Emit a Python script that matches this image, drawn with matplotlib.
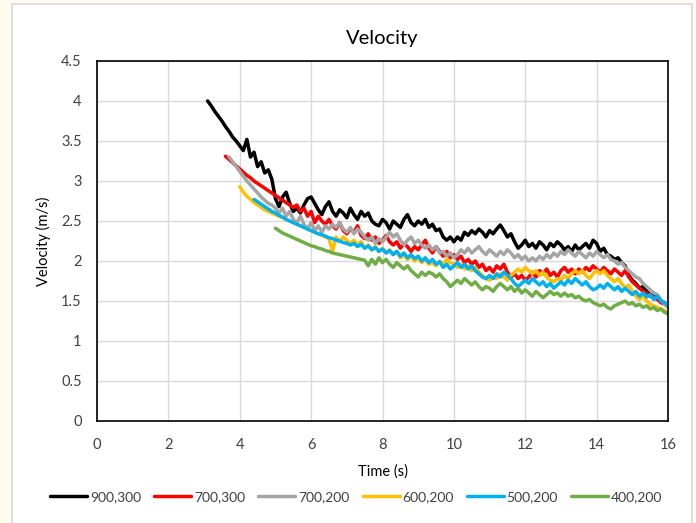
import matplotlib
matplotlib.use("Agg")
import matplotlib.pyplot as plt
from matplotlib.patches import Rectangle
import numpy as np

plt.rcParams["font.family"] = ["Lato", "DejaVu Sans"]

# logged speed samples, one every 0.1 s from each run's start time
DT = 0.1

labels = ["900,300", "700,300", "700,200", "600,200", "500,200", "400,200"]
colors = ["#000000", "#FF0000", "#A5A5A5", "#FFC000", "#00B0F0", "#70AD47"]
start_times = [3.1, 3.6, 3.7, 4.0, 4.4, 5.0]

v_900_300 = [
    4.00, 3.94, 3.87, 3.81, 3.75, 3.68, 3.62, 3.55, 3.50, 3.44,
    3.38, 3.52, 3.30, 3.36, 3.18, 3.24, 3.10, 3.14, 3.02, 2.78,
    2.68, 2.80, 2.86, 2.72, 2.62, 2.66, 2.60, 2.70, 2.78, 2.80,
    2.72, 2.64, 2.58, 2.68, 2.74, 2.62, 2.56, 2.64, 2.60, 2.54,
    2.66, 2.58, 2.52, 2.62, 2.56, 2.60, 2.50, 2.46, 2.44, 2.52,
    2.48, 2.40, 2.50, 2.46, 2.42, 2.52, 2.58, 2.48, 2.44, 2.50,
    2.46, 2.52, 2.42, 2.46, 2.38, 2.40, 2.30, 2.26, 2.30, 2.24,
    2.30, 2.26, 2.36, 2.32, 2.38, 2.34, 2.40, 2.36, 2.30, 2.38,
    2.34, 2.40, 2.45, 2.38, 2.30, 2.34, 2.24, 2.16, 2.20, 2.26,
    2.18, 2.22, 2.16, 2.24, 2.20, 2.14, 2.22, 2.18, 2.24, 2.20,
    2.14, 2.18, 2.12, 2.20, 2.14, 2.18, 2.22, 2.16, 2.26, 2.22,
    2.12, 2.16, 2.08, 2.06, 2.02, 2.04, 1.98, 1.94, 1.82, 1.76,
    1.72, 1.66, 1.68, 1.62, 1.58, 1.60, 1.54, 1.50, 1.48, 1.44,
]
v_700_300 = [
    3.31, 3.27, 3.23, 3.19, 3.15, 3.11, 3.07, 3.04, 3.00, 2.97,
    2.94, 2.91, 2.88, 2.85, 2.82, 2.79, 2.76, 2.73, 2.70, 2.67,
    2.70, 2.62, 2.66, 2.56, 2.62, 2.48, 2.56, 2.50, 2.46, 2.52,
    2.44, 2.40, 2.48, 2.38, 2.34, 2.40, 2.36, 2.44, 2.32, 2.28,
    2.34, 2.26, 2.30, 2.22, 2.26, 2.32, 2.24, 2.20, 2.24, 2.16,
    2.22, 2.18, 2.12, 2.18, 2.14, 2.20, 2.26, 2.16, 2.10, 2.18,
    2.12, 2.06, 2.12, 2.04, 2.08, 2.02, 2.06, 1.98, 2.02, 1.96,
    2.00, 1.92, 1.96, 1.88, 1.92, 1.86, 1.94, 1.90, 1.96, 1.86,
    1.80, 1.84, 1.78, 1.82, 1.76, 1.80, 1.86, 1.80, 1.88, 1.84,
    1.90, 1.82, 1.86, 1.80, 1.88, 1.92, 1.86, 1.90, 1.84, 1.90,
    1.86, 1.92, 1.88, 1.94, 1.90, 1.86, 1.92, 1.88, 1.84, 1.90,
    1.86, 1.82, 1.88, 1.80, 1.74, 1.70, 1.66, 1.62, 1.60, 1.56,
    1.54, 1.52, 1.48, 1.46, 1.44,
]
v_700_200 = [
    3.30, 3.24, 3.18, 3.12, 3.06, 3.00, 2.95, 2.90, 2.85, 2.80,
    2.76, 2.72, 2.70, 2.66, 2.60, 2.66, 2.56, 2.62, 2.52, 2.48,
    2.56, 2.46, 2.40, 2.48, 2.38, 2.44, 2.36, 2.44, 2.40, 2.46,
    2.42, 2.48, 2.40, 2.36, 2.42, 2.34, 2.40, 2.36, 2.30, 2.26,
    2.30, 2.22, 2.28, 2.24, 2.30, 2.36, 2.30, 2.34, 2.26, 2.20,
    2.26, 2.30, 2.22, 2.26, 2.20, 2.16, 2.20, 2.14, 2.18, 2.10,
    2.12, 2.06, 2.10, 2.04, 2.08, 2.14, 2.10, 2.16, 2.10, 2.14,
    2.18, 2.12, 2.08, 2.14, 2.10, 2.06, 2.12, 2.08, 2.14, 2.10,
    2.04, 2.08, 2.02, 2.06, 2.00, 2.04, 2.00, 2.06, 2.02, 2.08,
    2.04, 2.10, 2.06, 2.12, 2.08, 2.14, 2.10, 2.06, 2.12, 2.08,
    2.04, 2.10, 2.06, 2.12, 2.08, 2.04, 2.08, 2.02, 2.00, 1.96,
    1.98, 1.92, 1.88, 1.84, 1.80, 1.78, 1.72, 1.68, 1.64, 1.60,
    1.58, 1.52, 1.46, 1.42,
]
v_600_200 = [
    2.93, 2.86, 2.81, 2.77, 2.73, 2.70, 2.67, 2.64, 2.62, 2.60,
    2.58, 2.56, 2.54, 2.52, 2.50, 2.48, 2.46, 2.44, 2.42, 2.40,
    2.38, 2.36, 2.34, 2.32, 2.30, 2.28, 2.12, 2.30, 2.24, 2.30,
    2.26, 2.22, 2.26, 2.20, 2.24, 2.16, 2.20, 2.14, 2.18, 2.12,
    2.16, 2.10, 2.14, 2.08, 2.12, 2.04, 2.08, 2.02, 2.06, 2.00,
    2.04, 1.98, 2.02, 1.96, 1.98, 1.94, 2.00, 1.96, 2.02, 1.98,
    1.96, 1.92, 1.96, 1.90, 1.94, 1.88, 1.92, 1.86, 1.82, 1.78,
    1.76, 1.80, 1.78, 1.84, 1.80, 1.76, 1.82, 1.86, 1.90, 1.86,
    1.92, 1.88, 1.84, 1.88, 1.82, 1.86, 1.80, 1.76, 1.74, 1.78,
    1.76, 1.82, 1.78, 1.84, 1.88, 1.84, 1.88, 1.82, 1.78, 1.84,
    1.88, 1.84, 1.88, 1.82, 1.78, 1.74, 1.78, 1.72, 1.66, 1.70,
    1.62, 1.56, 1.52, 1.56, 1.50, 1.46, 1.44, 1.42, 1.40, 1.38,
    1.35,
]
v_500_200 = [
    2.77, 2.74, 2.71, 2.68, 2.65, 2.62, 2.60, 2.57, 2.55, 2.52,
    2.50, 2.48, 2.46, 2.44, 2.42, 2.40, 2.38, 2.36, 2.34, 2.33,
    2.31, 2.29, 2.28, 2.26, 2.25, 2.23, 2.22, 2.20, 2.22, 2.18,
    2.21, 2.16, 2.19, 2.14, 2.17, 2.12, 2.15, 2.10, 2.13, 2.08,
    2.12, 2.06, 2.10, 2.04, 2.08, 2.03, 2.06, 2.00, 2.04, 1.98,
    2.02, 1.96, 1.99, 1.92, 1.96, 1.90, 1.94, 1.98, 1.92, 1.96,
    1.90, 1.94, 1.88, 1.84, 1.80, 1.78, 1.82, 1.78, 1.84, 1.80,
    1.86, 1.82, 1.78, 1.72, 1.68, 1.72, 1.76, 1.72, 1.78, 1.74,
    1.70, 1.74, 1.68, 1.72, 1.66, 1.70, 1.74, 1.70, 1.76, 1.72,
    1.78, 1.74, 1.70, 1.74, 1.68, 1.64, 1.66, 1.70, 1.66, 1.72,
    1.68, 1.64, 1.68, 1.62, 1.66, 1.62, 1.58, 1.62, 1.56, 1.60,
    1.55, 1.58, 1.52, 1.56, 1.50, 1.48, 1.45,
]
v_400_200 = [
    2.41, 2.38, 2.35, 2.33, 2.31, 2.29, 2.27, 2.25, 2.23, 2.21,
    2.19, 2.18, 2.16, 2.15, 2.13, 2.12, 2.10, 2.09, 2.08, 2.07,
    2.06, 2.05, 2.04, 2.03, 2.02, 2.01, 1.94, 2.02, 1.96, 2.04,
    1.98, 2.02, 1.96, 1.92, 1.98, 1.94, 1.90, 1.94, 1.88, 1.84,
    1.80, 1.86, 1.82, 1.86, 1.84, 1.80, 1.84, 1.78, 1.74, 1.68,
    1.72, 1.76, 1.72, 1.78, 1.74, 1.70, 1.74, 1.68, 1.64, 1.68,
    1.66, 1.62, 1.68, 1.72, 1.68, 1.64, 1.68, 1.62, 1.66, 1.60,
    1.64, 1.60, 1.56, 1.62, 1.58, 1.54, 1.58, 1.62, 1.58, 1.60,
    1.56, 1.60, 1.56, 1.58, 1.54, 1.56, 1.52, 1.50, 1.52, 1.48,
    1.46, 1.44, 1.46, 1.42, 1.40, 1.44, 1.46, 1.48, 1.50, 1.46,
    1.48, 1.44, 1.46, 1.42, 1.44, 1.40, 1.42, 1.38, 1.40, 1.36,
    1.34,
]
series = [v_900_300, v_700_300, v_700_200, v_600_200, v_500_200, v_400_200]

x_ticks = [0, 2, 4, 6, 8, 10, 12, 14, 16]
y_ticks = [0, 0.5, 1, 1.5, 2, 2.5, 3, 3.5, 4, 4.5]

fig = plt.figure(figsize=(6.96, 5.23), dpi=100, facecolor="#FDFCEF")
# white chart area with a thin grey frame, kept behind the axes
fig.patches.append(Rectangle((12 / 696, -0.05), 680 / 696, 1 - 4 / 523 + 0.05,
                             transform=fig.transFigure, facecolor="white",
                             edgecolor="#D9D9D9", linewidth=1.2, zorder=-10))

ax = fig.add_axes([97 / 696, 1 - 421 / 523, 571 / 696, 360 / 523])
for t0, vals, c, lab in zip(start_times, series, colors, labels):
    t = t0 + DT * np.arange(len(vals))
    ax.plot(t, vals, color=c, linewidth=2.5, label=lab,
            solid_joinstyle="round", solid_capstyle="round")

ax.set_xlim(0, 16)
ax.set_ylim(0, 4.5)
ax.set_xticks(x_ticks)
ax.set_yticks(y_ticks)
ax.set_xticklabels([str(v) for v in x_ticks])
ax.set_yticklabels([f"{v:g}" for v in y_ticks])
ax.tick_params(length=0, labelsize=10.5, colors="#404040")
ax.tick_params(axis="x", pad=12)
ax.tick_params(axis="y", pad=11)
ax.grid(True, color="#D9D9D9", linewidth=1.0)
ax.set_axisbelow(True)
for s in ax.spines.values():
    s.set_color("black")
    s.set_linewidth(1.2)

ax.set_title("Velocity", fontsize=14.5, color="black", pad=12)
ax.set_xlabel("Time (s)", fontsize=10.5, color="black", labelpad=9)
ax.set_ylabel("Velocity (m/s)", fontsize=10.5, color="black", labelpad=7)

fig.legend(loc="center", bbox_to_anchor=(0.512, 1 - 497 / 523), ncol=6,
           frameon=False, fontsize=10, handlelength=2.66, handletextpad=0.2,
           columnspacing=0.95, labelcolor="#404040")

fig.savefig("out.png", dpi=100, facecolor=fig.get_facecolor())
